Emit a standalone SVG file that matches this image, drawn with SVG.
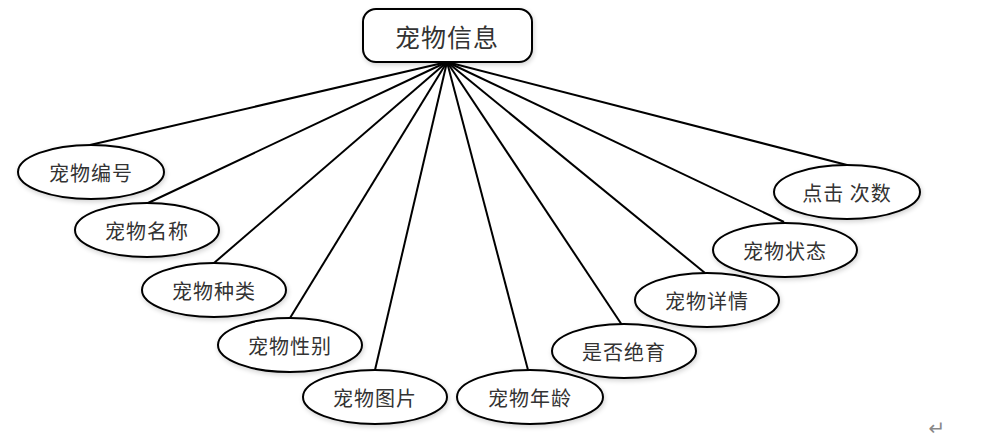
<svg xmlns="http://www.w3.org/2000/svg" width="986" height="443" viewBox="0 0 986 443">
<defs>
<filter id="sh" x="-20%" y="-30%" width="140%" height="160%">
<feGaussianBlur in="SourceAlpha" stdDeviation="2.5"/>
<feOffset dx="1" dy="2"/>
<feComponentTransfer><feFuncA type="linear" slope="0.18"/></feComponentTransfer>
<feMerge><feMergeNode/><feMergeNode in="SourceGraphic"/></feMerge>
</filter>
</defs>
<style>
.n{fill:#fff;stroke:#000;stroke-width:2;filter:url(#sh)}
.t{font-family:"Noto Sans CJK SC","Noto Sans",sans-serif;font-size:20px;fill:#333;text-anchor:middle;dominant-baseline:central;letter-spacing:1px}
.c line{stroke:#000;stroke-width:2}
</style>
<rect width="986" height="443" fill="#fff"/>
<g class="c" id="connectors">
<line x1="447" y1="62" x2="90" y2="145"/>
<line x1="447" y1="62" x2="148" y2="203"/>
<line x1="447" y1="62" x2="214" y2="263"/>
<line x1="447" y1="62" x2="290" y2="318"/>
<line x1="447" y1="62" x2="375" y2="370"/>
<line x1="447" y1="62" x2="528" y2="370"/>
<line x1="447" y1="62" x2="622" y2="325"/>
<line x1="447" y1="62" x2="705" y2="273"/>
<line x1="447" y1="62" x2="784" y2="222"/>
<line x1="447" y1="62" x2="847" y2="165"/>
</g>
<g id="root">
<rect class="n" x="363" y="9" width="169" height="53" rx="13"/>
<text class="t" x="447" y="36" style="font-size:25px">宠物信息</text>
</g>
<g id="n1"><ellipse class="n" cx="91" cy="172" rx="73" ry="27"/><text class="t" x="91" y="172">宠物编号</text></g>
<g id="n2"><ellipse class="n" cx="147" cy="230" rx="72" ry="27"/><text class="t" x="147" y="230">宠物名称</text></g>
<g id="n3"><ellipse class="n" cx="214" cy="290" rx="72" ry="27"/><text class="t" x="214" y="290">宠物种类</text></g>
<g id="n4"><ellipse class="n" cx="290" cy="345" rx="72" ry="27"/><text class="t" x="290" y="345">宠物性别</text></g>
<g id="n5"><ellipse class="n" cx="375" cy="397" rx="72" ry="27"/><text class="t" x="375" y="397">宠物图片</text></g>
<g id="n6"><ellipse class="n" cx="530" cy="397" rx="73" ry="27"/><text class="t" x="530" y="397">宠物年龄</text></g>
<g id="n7"><ellipse class="n" cx="624" cy="351" rx="72" ry="27"/><text class="t" x="624" y="351">是否绝育</text></g>
<g id="n8"><ellipse class="n" cx="707" cy="300" rx="72" ry="27"/><text class="t" x="707" y="300">宠物详情</text></g>
<g id="n9"><ellipse class="n" cx="785" cy="250" rx="72" ry="27"/><text class="t" x="785" y="250">宠物状态</text></g>
<g id="n10"><ellipse class="n" cx="847" cy="192" rx="73" ry="27"/><text class="t" x="847" y="192">点击 次数</text></g>
<text x="937" y="428" style="font-family:'DejaVu Sans',sans-serif;font-size:20px;fill:#888;text-anchor:middle;dominant-baseline:central">↵</text>
</svg>
